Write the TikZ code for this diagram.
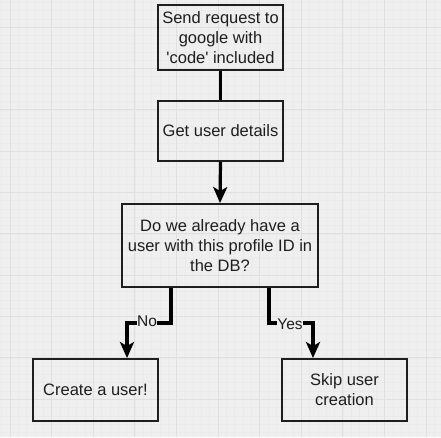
\documentclass[tikz,border=0pt]{standalone}
\usepackage{fontspec}
\setmainfont{Liberation Sans}
\usetikzlibrary{arrows.meta,calc}
\definecolor{bgc}{HTML}{EFEFEF}
\definecolor{majc}{HTML}{E0E0E0}
\definecolor{minc}{HTML}{EAEAEA}
\definecolor{inkc}{HTML}{1E1E1E}
\tikzset{
  box/.style={draw=inkc, line width=1.9pt, rectangle, align=center, text=inkc,
    font=\fontsize{16.5}{20}\selectfont, inner sep=2pt},
  conn/.style={draw=black, line width=3.2pt},
  arr/.style={conn, -{Stealth[width=14pt,length=16pt,inset=4pt]}},
  lbl/.style={fill=bgc, text=inkc, font=\fontsize{15.5}{17}\selectfont, inner sep=0.3pt},
  minor/.style={draw=minc, line width=0.4pt},
  major/.style={draw=majc, line width=0.9pt}
}
\begin{document}
\begin{tikzpicture}[x=1pt,y=-1pt]
\useasboundingbox (0,0) rectangle (441,437);
\fill[bgc] (0,0) rectangle (441,437);
% grid
\foreach \i in {-2,...,53} { \draw[minor] ({10+\i*8.32},0) -- ({10+\i*8.32},437); }
\foreach \i in {-4,...,50} { \draw[minor] (0,{27+\i*8.27}) -- (441,{27+\i*8.27}); }
\foreach \i in {0,...,10} { \draw[major] ({10+\i*41.6},0) -- ({10+\i*41.6},437); }
\foreach \i in {-1,...,10} { \draw[major] (0,{27+\i*41.35}) -- (441,{27+\i*41.35}); }
% boxes
\node[box, minimum width=125pt, minimum height=65pt] (b1) at (220.5,37.5) {Send request to\\google with\\\textquotesingle code\textquotesingle{} included};
\node[box, minimum width=125pt, minimum height=60pt] (b2) at (220.5,131) {Get user details};
\node[box, minimum width=196pt, minimum height=83pt] (b3) at (220,245.5) {Do we already have a\\user with this profile ID in\\the DB?};
\node[box, minimum width=125pt, minimum height=62pt] (b4) at (95.5,390) {Create a user!};
\node[box, minimum width=125pt, minimum height=62pt] (b5) at (344.5,390) {Skip user\\creation};
% connectors
\draw[conn] (b1.south) -- (b2.north);
\draw[arr] (b2.south) -- (b3.north);
\coordinate (nA) at (171,323);
\coordinate (nB) at (127,323);
\coordinate (yA) at (269,323);
\coordinate (yB) at (313,323);
\draw[arr] (b3.south -| nA) -- (nA) -- (nB) -- (b4.north -| nB);
\draw[arr] (b3.south -| yA) -- (yA) -- (yB) -- (b5.north -| yB);
\node[lbl] (lno) at (147,321.5) {No};
\node[lbl] (lyes) at (290,324) {Yes};
\end{tikzpicture}
\end{document}
